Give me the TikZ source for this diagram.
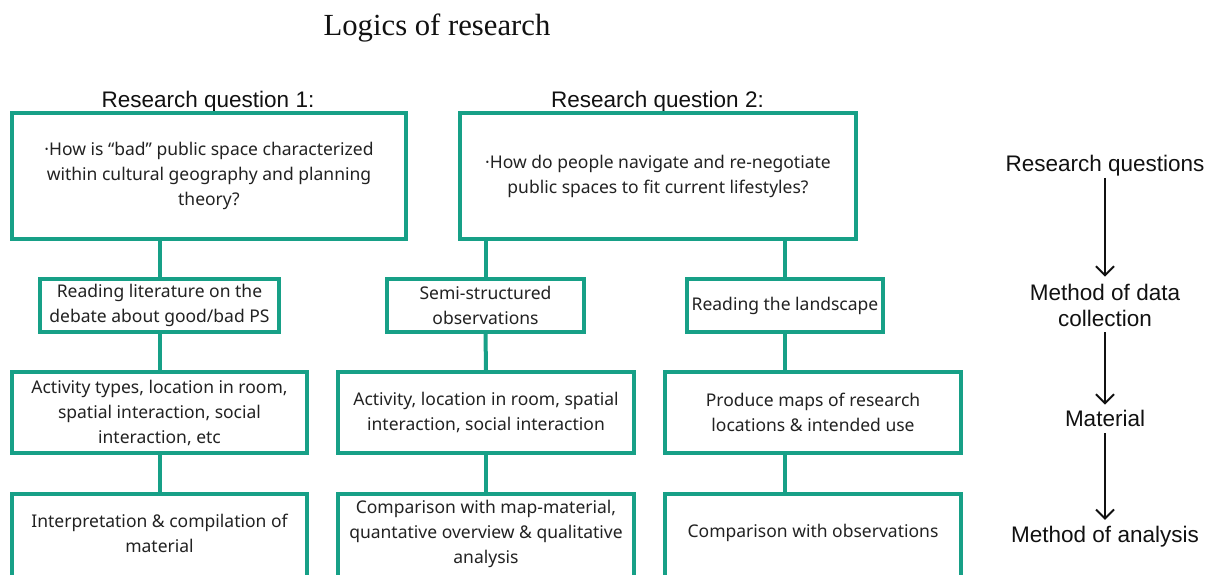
\documentclass[tikz,border=0pt]{standalone}
\usepackage{fontspec}
\setmainfont{Noto Sans}
\newfontfamily\labelfont{Liberation Sans}
\newfontfamily\titlefont{Liberation Serif}
\usetikzlibrary{arrows.meta}
\definecolor{boxteal}{HTML}{17A087}
\definecolor{textgray}{HTML}{222222}
\definecolor{labelgray}{HTML}{111111}

\begin{document}
\begin{tikzpicture}[x=1pt,y=-1pt,
  box/.style={draw=boxteal, line width=3.2pt, fill=white, align=center,
    inner sep=0pt, text=textgray, font=\fontsize{17.5}{25}\selectfont},
  boxtext/.style={align=center, inner sep=0pt, text=textgray,
    font=\fontsize{17.5}{25}\selectfont},
  link/.style={draw=boxteal, line width=4pt},
  head/.style={inner sep=0pt, text=labelgray,
    font=\labelfont\fontsize{22.5}{26}\selectfont},
  side/.style={align=center, inner sep=0pt, text=labelgray,
    font=\labelfont\fontsize{22.5}{26}\selectfont},
  flow/.style={draw=labelgray, line width=1.9pt,
    -{Straight Barb[length=9pt,width=18pt,line width=1.9pt]}},
  title/.style={inner sep=0pt, text=labelgray,
    font=\titlefont\fontsize{30.7}{36}\selectfont}
]
\useasboundingbox (0,0) rectangle (1214,574);
\fill[white] (0,0) rectangle (1214,574);
\clip (0,0) rectangle (1214,574);

% title and column headings
\node[title, anchor=base] (title) at (437,35) {Logics of research};
\node[head, anchor=base] (h1) at (208,107) {Research question 1:};
\node[head, anchor=base] (h2) at (657.5,107) {Research question 2:};

% research questions
\node[box, minimum width=394, minimum height=126] (q1) at (209,176)
  {·How is “bad” public space characterized\\within cultural geography and planning\\theory?};
\node[box, minimum width=396, minimum height=126] (q2) at (658,176)
  {·How do people navigate and re-negotiate\\public spaces to fit current lifestyles?};

% methods of data collection
\node[box, minimum width=239, minimum height=53] (a2) at (159.5,305.5)
  {Reading literature on the\\debate about good/bad PS};
\node[box, minimum width=197, minimum height=53] (b2) at (485.5,305.5)
  {Semi-structured\\observations};
\node[box, minimum width=196, minimum height=53] (c2) at (785,305.5)
  {Reading the landscape};

% material
\node[box, minimum width=295, minimum height=81] (a3) at (159.5,412.5)
  {Activity types, location in room,\\spatial interaction, social\\interaction, etc};
\node[box, minimum width=296, minimum height=81] (b3) at (486,412.5)
  {Activity, location in room, spatial\\interaction, social interaction};
\node[box, minimum width=296, minimum height=81] (c3) at (813,412.5)
  {Produce maps of research\\locations \& intended use};

% methods of analysis (running off the lower edge)
\node[box, minimum width=295, minimum height=110] (a4) at (159.5,549) {};
\node[box, minimum width=296, minimum height=110] (b4) at (486,549) {};
\node[box, minimum width=296, minimum height=110] (c4) at (813,549) {};
\node[boxtext] (a4t) at (159.5,533) {Interpretation \& compilation of\\material};
\node[boxtext] (b4t) at (486,533.5) {Comparison with map-material,\\quantative overview \& qualitative\\analysis};
\node[boxtext] (c4t) at (813,533) {Comparison with observations};

% tree connectors
\draw[link] (q1.south -| a2.north) -- (a2.north);
\draw[link] (q2.south -| b2.north) -- (b2.north);
\draw[link] (q2.south -| c2.north) -- (c2.north);
\draw[link] (a2.south) -- (a3.north);
\draw[link] (b2.south) -- (b3.north);
\draw[link] (c2.south) -- (c2.south |- c3.north);
\draw[link] (a3.south) -- (a4.north);
\draw[link] (b3.south) -- (b4.north);
\draw[link] (c2.south |- c3.south) -- (c2.south |- c4.north);

% legend of the research logic
\node[side] (r1) at (1105,165.3) {Research questions};
\node[side] (r2) at (1105,305) {Method of data\\collection};
\node[side] (r3) at (1105,418) {Material};
\node[side] (r4) at (1105,537) {Method of analysis};
\draw[flow, shorten <=2pt, shorten >=7pt] (r1.south) -- (r2.north);
\draw[flow, shorten <=6pt, shorten >=5pt] (r2.south) -- (r3.north);
\draw[flow, shorten <=7pt, shorten >=6.5pt] (r3.south) -- (r4.north);
\end{tikzpicture}
\end{document}
